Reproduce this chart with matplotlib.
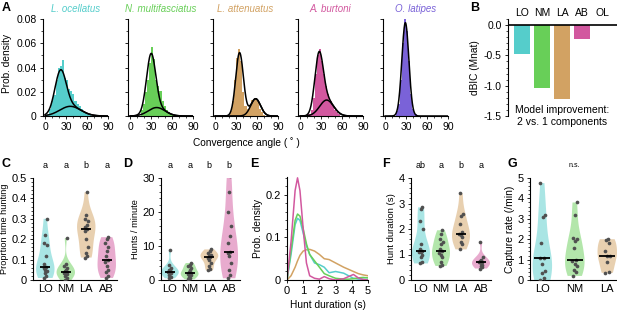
import numpy as np
import matplotlib
matplotlib.use('Agg')
from matplotlib import pyplot as plt
from matplotlib.ticker import MultipleLocator

plt.rcParams['font.family'] = ['Liberation Sans', 'DejaVu Sans']
plt.rcParams['font.size'] = 7.5
plt.rcParams['axes.linewidth'] = 0.8
plt.rcParams['xtick.major.size'] = 2.5
plt.rcParams['ytick.major.size'] = 2.5
plt.rcParams['xtick.minor.size'] = 1.5
plt.rcParams['ytick.minor.size'] = 1.5
plt.rcParams['xtick.major.width'] = 0.6
plt.rcParams['ytick.major.width'] = 0.6
plt.rcParams['xtick.minor.width'] = 0.5
plt.rcParams['ytick.minor.width'] = 0.5
plt.rcParams['xtick.major.pad'] = 2
plt.rcParams['ytick.major.pad'] = 2

# colours per species
colors = {'LO': '#55cdcb', 'NM': '#68cf58', 'LA': '#d2a263', 'AB': '#d2589f', 'OL': '#7a62d8'}
species = ['LO', 'NM', 'LA', 'AB', 'OL']
titles = ['L. ocellatus', 'N. multifasciatus', 'L. attenuatus', 'A. burtoni', 'O. latipes']

# ---- A: convergence angle histograms (3 deg bins, 0..90)
bin_left = np.arange(0, 90, 3)
hist_LO = [0, 0.002, 0.006, 0.012, 0.017, 0.03, 0.04, 0.041, 0.046, 0.031, 0.03, 0.022, 0.021, 0.018, 0.012,
           0.01, 0.008, 0.006, 0.004, 0.003, 0.002, 0.001, 0, 0, 0, 0, 0, 0, 0, 0]
hist_NM = [0, 0, 0, 0, 0, 0.005, 0.01, 0.02, 0.03, 0.044, 0.057, 0.047, 0.03, 0.025, 0.021,
           0.012, 0.008, 0.005, 0.003, 0.002, 0.001, 0, 0, 0, 0, 0, 0, 0, 0, 0]
hist_LA = [0, 0, 0, 0, 0, 0, 0, 0.004, 0.012, 0.03, 0.048, 0.055, 0.045, 0.02, 0.008,
           0.006, 0.009, 0.013, 0.014, 0.015, 0.012, 0.006, 0.003, 0.001, 0, 0, 0, 0, 0, 0]
hist_AB = [0, 0, 0, 0, 0.002, 0.005, 0.015, 0.035, 0.05, 0.055, 0.045, 0.035, 0.025, 0.018, 0.012,
           0.008, 0.005, 0.003, 0.002, 0, 0, 0, 0, 0, 0, 0, 0, 0, 0, 0]
hist_OL = [0, 0, 0, 0, 0, 0.004, 0.01, 0.03, 0.06, 0.08, 0.07, 0.045, 0.018, 0.006, 0.002,
           0, 0, 0, 0, 0, 0, 0, 0, 0, 0, 0, 0, 0, 0, 0]
hists = [hist_LO, hist_NM, hist_LA, hist_AB, hist_OL]

# Gaussian mixture fits: (weight, mean, sd) per component
gmm = {
    'LO': [(0.66, 22, 8), (0.30, 36, 15)],
    'NM': [(0.75, 30, 6.5), (0.21, 38, 12)],
    'LA': [(0.72, 35, 5.5), (0.25, 58, 7)],
    'AB': [(0.69, 27, 6), (0.33, 38, 10)],
    'OL': [(0.965, 29, 5)],
}

# ---- B: dBIC
dbic = [-0.47, -1.03, -1.22, -0.23, 0.0]

# ---- C-G violin data
prop_hunt = {
    'LO': [0.01, 0.02, 0.035, 0.045, 0.05, 0.06, 0.065, 0.08, 0.12, 0.17, 0.18, 0.22, 0.30],
    'NM': [0.0, 0.01, 0.02, 0.03, 0.03, 0.035, 0.037, 0.045, 0.05, 0.06, 0.07, 0.08, 0.205],
    'LA': [0.11, 0.12, 0.13, 0.16, 0.20, 0.24, 0.25, 0.26, 0.27, 0.29, 0.30, 0.32, 0.43],
    'AB': [0.01, 0.02, 0.04, 0.05, 0.07, 0.09, 0.10, 0.12, 0.14, 0.16, 0.18, 0.20, 0.21],
}
hunt_rate = {
    'LO': [0.5, 1.0, 1.5, 2.0, 2.2, 2.3, 2.5, 2.8, 3.0, 3.5, 4.5, 8.7],
    'NM': [0.2, 0.5, 1.0, 1.5, 1.7, 1.9, 2.0, 2.5, 3.0, 3.5, 4.0, 4.5, 5.0],
    'LA': [2.8, 3.2, 4.0, 5.0, 6.0, 6.5, 6.8, 7.0, 7.2, 7.5, 8.0, 8.5, 9.0],
    'AB': [0.5, 1.5, 3.0, 5.0, 7.0, 8.0, 8.3, 11.0, 13.0, 16.0, 20.0, 26.0, 30.5],
}
hunt_dur = {
    'LO': [0.65, 0.7, 0.9, 1.0, 1.1, 1.1, 1.12, 1.2, 1.4, 2.0, 2.3, 2.8, 2.85],
    'NM': [0.55, 0.6, 0.7, 0.9, 1.0, 1.05, 1.13, 1.2, 1.4, 1.5, 1.6, 1.8, 1.95],
    'LA': [1.2, 1.4, 1.5, 1.7, 1.77, 1.8, 1.9, 2.2, 2.5, 2.6, 3.4],
    'AB': [0.45, 0.5, 0.55, 0.6, 0.65, 0.72, 0.72, 0.75, 0.8, 0.9, 1.5],
}
capture = {
    'LO': [0.0, 0.1, 0.35, 0.45, 0.8, 1.1, 1.1, 1.8, 3.1, 3.2, 4.75],
    'NM': [0.2, 0.4, 0.5, 0.7, 0.8, 0.95, 1.0, 1.55, 1.9, 2.0, 2.05, 3.2, 3.8],
    'LA': [0.35, 0.4, 0.9, 1.2, 1.2, 1.4, 1.8, 1.95, 2.0],
}

# ---- E: hunt duration densities
dur_x = [0, 0.25, 0.5, 0.65, 0.8, 1.0, 1.2, 1.4, 1.7, 2.0, 2.3, 2.6, 3.0, 3.5, 3.8, 4.1, 4.4, 4.7, 5.0]
dens_LO = [0, 0.06, 0.13, 0.145, 0.14, 0.11, 0.08, 0.06, 0.04, 0.036, 0.03, 0.017, 0.02, 0.016, 0.01, 0.004, 0.002, 0.002, 0.001]
dens_NM = [0, 0.07, 0.14, 0.155, 0.15, 0.12, 0.085, 0.06, 0.045, 0.03, 0.015, 0.01, 0.004, 0.002, 0.002, 0.003, 0.005, 0.006, 0.005]
dens_LA = [0, 0.01, 0.03, 0.045, 0.058, 0.068, 0.071, 0.072, 0.068, 0.06, 0.05, 0.048, 0.04, 0.03, 0.025, 0.02, 0.015, 0.012, 0.01]
dens_AB = [0, 0.09, 0.21, 0.24, 0.21, 0.12, 0.04, 0.01, 0.004, 0.002, 0.008, 0.003, 0.0, 0.003, 0.008, 0.013, 0.005, 0.001, 0.0]

W, H = 617, 312
fig = plt.figure(figsize=(W / 100, H / 100), dpi=100)


def box(l, t, r, b):
    return [l / W, 1 - b / H, (r - l) / W, (b - t) / H]


def clean(ax):
    ax.spines['top'].set_visible(False)
    ax.spines['right'].set_visible(False)


# ---------- panel A
xx = np.linspace(0, 90, 400)
for k, sp in enumerate(species):
    ax = fig.add_axes(box(43 + 85 * k, 19, 108 + 85 * k, 116))
    clean(ax)
    ax.bar(bin_left, hists[k], width=3, align='edge', color=colors[sp], linewidth=0)
    comps = [w / (s * np.sqrt(2 * np.pi)) * np.exp(-(xx - m) ** 2 / (2 * s ** 2)) for (w, m, s) in gmm[sp]]
    ax.plot(xx, sum(comps), color='black', lw=1.1)
    if len(comps) > 1:
        ax.plot(xx, comps[1], color='black', lw=1.1)
    ax.set_xlim(-3, 90)
    ax.set_ylim(0, 0.08)
    ax.set_xticks([0, 30, 60, 90])
    ax.xaxis.set_minor_locator(MultipleLocator(10))
    ax.set_yticks([0, 0.02, 0.04, 0.06, 0.08])
    ax.yaxis.set_minor_locator(MultipleLocator(0.01))
    if k == 0:
        ax.set_yticklabels(['0', '0.02', '0.04', '0.06', '0.08'])
    else:
        ax.set_yticklabels([])
    ax.set_title(titles[k], color=colors[sp], style='italic', fontsize=7, pad=5)
fig.text(7 / W, 1 - 63 / H, 'Prob. density', rotation=90, ha='center', va='center', fontsize=7.3)
fig.text(246 / W, 1 - 143 / H, 'Convergence angle ( ˚ )', ha='center', va='center', fontsize=7.3)

# ---------- panel B
ax = fig.add_axes(box(508, 19, 617, 116))
ax.bar(range(5), dbic, width=0.8, color=[colors[s] for s in species])
ax.axhline(0, color='black', lw=1.2)
for s in ['top', 'right', 'bottom']:
    ax.spines[s].set_visible(False)
ax.set_xlim(-0.7, 4.75)
ax.set_ylim(-1.5, 0.1)
ax.xaxis.tick_top()
ax.set_xticks(range(5))
ax.set_xticklabels(species)
ax.tick_params(axis='x', length=0, pad=1)
ax.set_yticks([0, -0.5, -1.0, -1.5])
ax.set_yticklabels(['0.0', '-0.5', '-1.0', '-1.5'])
ax.yaxis.set_minor_locator(MultipleLocator(0.1))
ax.set_ylabel('dBIC (Mnat)', labelpad=3, fontsize=7.3)
ax.text(2.0, -1.5, 'Model improvement:\n2 vs. 1 components', ha='center', va='center',
        linespacing=1.2, clip_on=False)

# ---------- violin panels
jit = np.array([-0.06, 0.04, -0.02, 0.07, 0.0, -0.08, 0.05, -0.04, 0.02, 0.08, -0.07, 0.01, 0.06, -0.03])


def violins(rect, data, cats, ylim, major, minor, ylabel, letters, width=0.9, xlim=None,
            ticklabels=None, labelsize=7):
    ax = fig.add_axes(box(*rect))
    clean(ax)
    for i, c in enumerate(cats):
        v = np.array(data[c])
        parts = ax.violinplot(v, positions=[i], widths=width, showextrema=False)
        for b in parts['bodies']:
            b.set_facecolor(colors[c])
            b.set_edgecolor('none')
            b.set_alpha(0.5)
        ax.scatter(i + jit[:len(v)], v, s=7, color='#505050', zorder=3, linewidths=0)
        ax.hlines(np.median(v), i - 0.25, i + 0.25, color='black', lw=1.3, zorder=4)
    ax.set_xticks(range(len(cats)))
    ax.set_xticklabels(cats, fontsize=8)
    ax.tick_params(axis='x', length=0, pad=3)
    ax.set_xlim(xlim if xlim else (-0.55, len(cats) - 0.5))
    ax.set_ylim(*ylim)
    ax.set_yticks(major)
    if ticklabels:
        ax.set_yticklabels(ticklabels)
    ax.tick_params(axis='y', labelsize=8)
    ax.yaxis.set_minor_locator(MultipleLocator(minor))
    ax.set_ylabel(ylabel, labelpad=2, fontsize=labelsize)
    for i, l in enumerate(letters):
        ax.text(i, 1.12, l, transform=ax.get_xaxis_transform(), ha='center', va='center', fontsize=6.5)
    return ax


cats4 = ['LO', 'NM', 'LA', 'AB']
violins((33, 178, 117, 280), prop_hunt, cats4, (0, 0.5), [0, 0.1, 0.2, 0.3, 0.4, 0.5], 0.02,
        'Proprtion time hunting', ['a', 'a', 'b', 'a'], xlim=(-0.6, 3.5),
        ticklabels=['0', '0.1', '0.2', '0.3', '0.4', '0.5'], labelsize=6.6)
violins((161, 178, 240, 280), hunt_rate, cats4, (0, 30), [0, 10, 20, 30], 2,
        'Hunts / minute', ['a', 'a', 'b', 'b'], xlim=(-0.45, 3.55), labelsize=6.7)
violins((411, 178, 491, 280), hunt_dur, cats4, (0, 4), [0, 1, 2, 3, 4], 0.2,
        'Hunt duration (s)', ['ab', 'a', 'b', 'a'], xlim=(-0.5, 3.5), labelsize=6.8)
axg = violins((530, 178, 617, 280), capture, ['LO', 'NM', 'LA'], (0, 5), [0, 1, 2, 3, 4, 5], 0.2,
              'Capture rate (/min)', [], width=0.6, xlim=(-0.38, 2.3), labelsize=7.5)
axg.text(1, 1.12, 'n.s.', transform=axg.get_xaxis_transform(), ha='center', va='center', fontsize=5)

# ---------- panel E
ax = fig.add_axes(box(287, 177, 368, 280))
clean(ax)
for d, c in [(dens_LA, 'LA'), (dens_LO, 'LO'), (dens_NM, 'NM'), (dens_AB, 'AB')]:
    ax.plot(dur_x, d, color=colors[c], lw=1.1)
ax.set_xlim(0, 5)
ax.set_ylim(0, 0.242)
ax.set_xticks([0, 1, 2, 3, 4, 5])
ax.set_yticks([0, 0.1, 0.2])
ax.set_yticklabels(['0', '0.1', '0.2'])
ax.tick_params(labelsize=8)
ax.yaxis.set_minor_locator(MultipleLocator(0.02))
ax.set_ylabel('Prob. density', labelpad=2, fontsize=7.3)
ax.set_xlabel('Hunt duration (s)', labelpad=3, fontsize=7.3)

# ---------- panel letters
for lab, x, y in [('A', 2, 8), ('B', 470, 8), ('C', 2, 164), ('D', 123, 164),
                  ('E', 250, 164), ('F', 382, 164), ('G', 507, 164)]:
    fig.text(x / W, 1 - y / H, lab, fontsize=9, fontweight='bold', ha='left', va='center')

fig.savefig('out.png', dpi=100)
